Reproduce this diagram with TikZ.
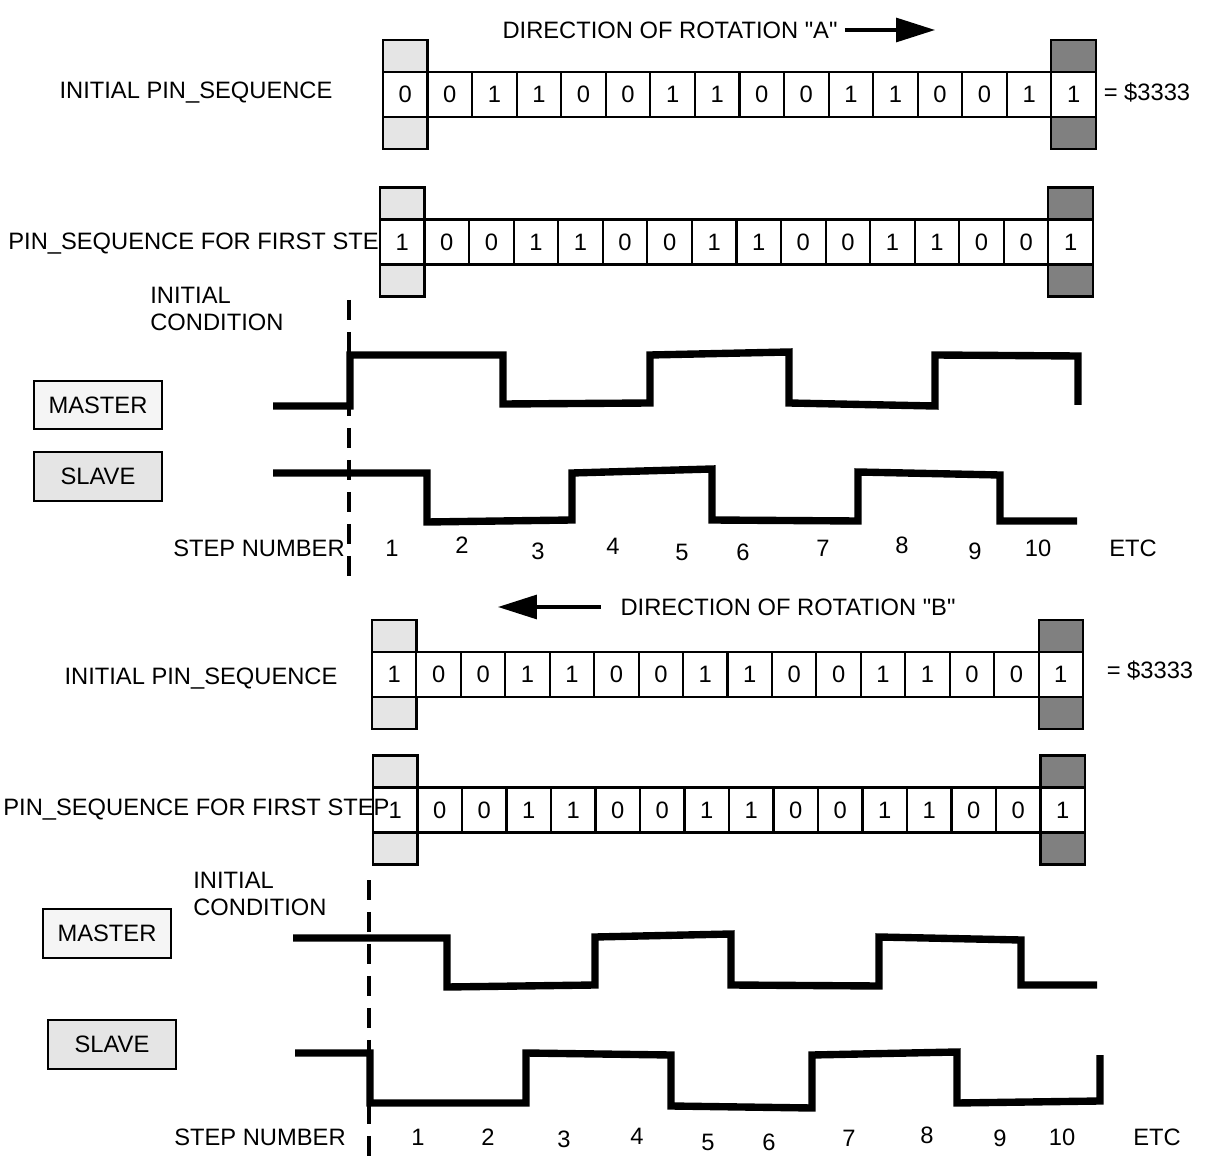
\documentclass[tikz,border=0pt]{standalone}
\usepackage{fontspec}
\setmainfont{Liberation Sans}
\usetikzlibrary{arrows.meta,positioning}
\definecolor{pinlight}{HTML}{E5E5E5}
\definecolor{pinshade}{HTML}{808080}
\definecolor{masterfill}{HTML}{F5F5F5}
\newcommand{\diagfont}{\fontsize{13.5}{15.5}\selectfont}
\tikzset{
  lbl/.style={font=\diagfont,inner sep=0pt},
  pincell/.style={draw,fill=white,line width=1.2pt,minimum width=8.9mm,minimum height=9mm,inner sep=0pt,outer sep=0pt,font=\diagfont},
  pinlite/.style={pincell,fill=pinlight,minimum height=6.4mm},
  pinshaded/.style={pincell,fill=pinshade,minimum height=6.4mm},
  sigbox/.style={draw,line width=1.4pt,minimum width=25.6mm,minimum height=9.7mm,inner sep=0pt,font=\diagfont},
  wave/.style={line width=4.2pt},
  initline/.style={line width=1.8pt,dash pattern=on 4mm off 2.4mm},
  dirarrow/.style={-{Triangle[length=7.8mm,width=4.8mm]},line width=1.8pt},
}

\begin{document}
\begin{tikzpicture}[x=0.02cm,y=-0.02cm]
  \useasboundingbox (0,0) rectangle (1208,1162);

  % rotation A
  \node[lbl] (dirA) at (670,30) {DIRECTION OF ROTATION \textquotedbl A\textquotedbl};
  \coordinate (tipA) at (935,30);
  \draw[dirarrow] ([xshift=4pt]dirA.east) -- (tipA);

  \node[lbl] (initA) at (196,93) {INITIAL PIN\_SEQUENCE};
  \foreach \d [count=\i] in {0,0,1,1,0,0,1,1,0,0,1,1,0,0,1,1}
    \node[pincell] (inA\i) at ({383+44.56*(\i-0.5)},94.5) {\d};
  \node[pinlite,above=0pt of inA1] (inA-top1) {};
  \node[pinlite,below=0pt of inA1] (inA-bot1) {};
  \node[pinshaded,above=0pt of inA16] (inA-top16) {};
  \node[pinshaded,below=0pt of inA16] (inA-bot16) {};
  \node[lbl] (eqA) at (1147,93) {= \$3333};

  \node[lbl,anchor=west] (firstA) at (8,244) {PIN\_SEQUENCE FOR FIRST STEP};
  \foreach \d [count=\i] in {1,0,0,1,1,0,0,1,1,0,0,1,1,0,0,1}
    \node[pincell] (stA\i) at ({380+44.56*(\i-0.5)},242) {\d};
  \node[pinlite,above=0pt of stA1] (stA-top1) {};
  \node[pinlite,below=0pt of stA1] (stA-bot1) {};
  \node[pinshaded,above=0pt of stA16] (stA-top16) {};
  \node[pinshaded,below=0pt of stA16] (stA-bot16) {};

  \node[lbl,anchor=west,align=left] (condA) at (150,309) {INITIAL\\CONDITION};
  \coordinate (initA-top) at (349,300);
  \coordinate (initA-bot) at (349,587);
  \draw[initline] (initA-top) -- (initA-bot);

  \node[sigbox,fill=masterfill] (masterA) at (98,405) {MASTER};
  \node[sigbox,fill=pinlight] (slaveA) at (98,476.5) {SLAVE};
  \draw[wave] (273,406) -- (350,406) -- (350,355) -- (503,355) -- (503,404) -- (650,403)
    -- (650,355) -- (789,352) -- (789,403) -- (935,406) -- (935,355) -- (1078,356) -- (1078,405);
  \draw[wave] (273,473) -- (427,473) -- (427,522) -- (572,520) -- (572,473) -- (712,469)
    -- (712,520) -- (858,521) -- (858,472) -- (1000,475) -- (1000,521) -- (1077,521);

  \node[lbl] (stepA) at (259,548) {STEP NUMBER};
  \foreach \n/\x/\y in {1/392/548,2/462/545,3/538/551,4/613/546,5/682/552,6/743/552,7/823/548,8/902/545,9/975/551,10/1038/548}
    \node[lbl] (sA\n) at (\x,\y) {\n};
  \node[lbl] (etcA) at (1133,548) {ETC};

  % rotation B
  \node[lbl] (dirB) at (788,607) {DIRECTION OF ROTATION \textquotedbl B\textquotedbl};
  \coordinate (tipB) at (498,607);
  \draw[dirarrow] ([xshift=-11pt]dirB.west) -- (tipB);

  \node[lbl] (initB) at (201,679) {INITIAL PIN\_SEQUENCE};
  \foreach \d [count=\i] in {1,0,0,1,1,0,0,1,1,0,0,1,1,0,0,1}
    \node[pincell] (inB\i) at ({372+44.44*(\i-0.5)},674.5) {\d};
  \node[pinlite,above=0pt of inB1] (inB-top1) {};
  \node[pinlite,below=0pt of inB1] (inB-bot1) {};
  \node[pinshaded,above=0pt of inB16] (inB-top16) {};
  \node[pinshaded,below=0pt of inB16] (inB-bot16) {};
  \node[lbl] (eqB) at (1150,671) {= \$3333};

  \foreach \d [count=\i] in {1,0,0,1,1,0,0,1,1,0,0,1,1,0,0,1}
    \node[pincell] (stB\i) at ({373+44.5*(\i-0.5)},810) {\d};
  \node[pinlite,above=0pt of stB1] (stB-top1) {};
  \node[pinlite,below=0pt of stB1] (stB-bot1) {};
  \node[pinshaded,above=0pt of stB16] (stB-top16) {};
  \node[pinshaded,below=0pt of stB16] (stB-bot16) {};
  \node[lbl,anchor=west] (firstB) at (3,810) {PIN\_SEQUENCE FOR FIRST STEP};

  \node[lbl,anchor=west,align=left] (condB) at (193,894) {INITIAL\\CONDITION};
  \coordinate (initB-top) at (369,880);
  \coordinate (initB-bot) at (369,1162);
  \draw[initline] (initB-top) -- (initB-bot);

  \node[sigbox,fill=masterfill] (masterB) at (107,933.5) {MASTER};
  \node[sigbox,fill=pinlight] (slaveB) at (112,1044.5) {SLAVE};
  \draw[wave] (293,938) -- (447,938) -- (447,987) -- (595,985) -- (595,937) -- (731,934)
    -- (731,985) -- (879,986) -- (879,937) -- (1021,940) -- (1021,985) -- (1097,985);
  \draw[wave] (295,1053) -- (370,1053) -- (370,1103) -- (526,1103) -- (526,1053) -- (671,1055)
    -- (671,1106) -- (812,1108) -- (812,1055) -- (957,1052) -- (957,1103) -- (1100,1101) -- (1100,1055);

  \node[lbl] (stepB) at (260,1137) {STEP NUMBER};
  \foreach \n/\x/\y in {1/418/1137,2/488/1137,3/564/1139,4/637/1136,5/708/1142,6/769/1142,7/849/1138,8/927/1135,9/1000/1138,10/1062/1137}
    \node[lbl] (sB\n) at (\x,\y) {\n};
  \node[lbl] (etcB) at (1157,1137) {ETC};
\end{tikzpicture}
\end{document}
